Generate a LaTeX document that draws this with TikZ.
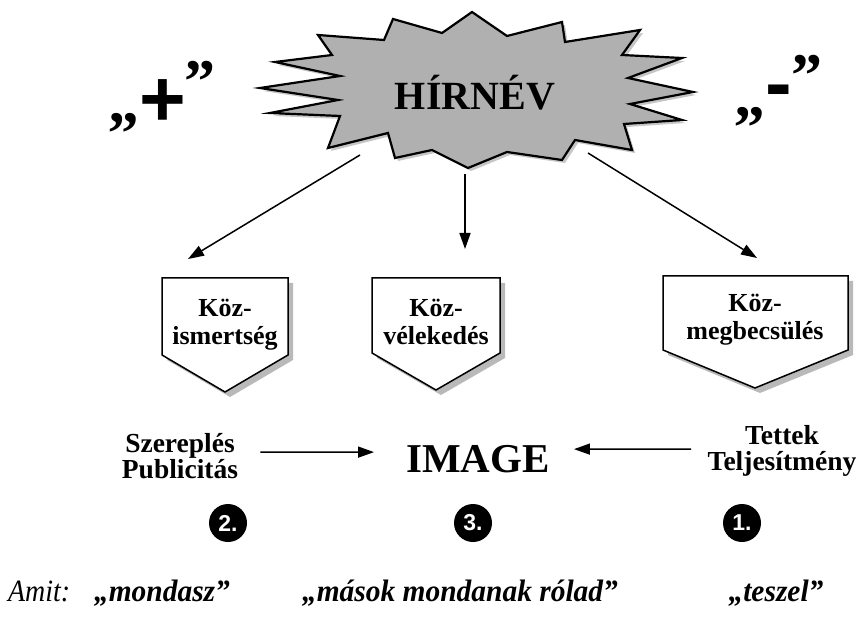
\documentclass[tikz,border=0pt]{standalone}
\usepackage{fontspec}
\setmainfont{Liberation Serif}
\newfontfamily\sansfam{Liberation Sans}
\usetikzlibrary{arrows.meta,calc}
\begin{document}
\begin{tikzpicture}[x=1pt,y=-1pt,
  arr/.style={line width=1.5pt,-{Triangle[length=16pt,width=11pt]}},
  boxline/.style={draw=black,line width=1.5pt,fill=white,line join=miter},
  boxshadow/.style={fill=gray!55},
  boxtext/.style={align=center,inner sep=2pt,font=\bfseries\fontsize{26}{28}\selectfont},
  sidetext/.style={align=center,inner sep=2pt,font=\bfseries\fontsize{27.5}{26}\selectfont},
  numc/.style={circle,fill=black,text=white,minimum size=38pt,inner sep=0pt,font=\sansfam\bfseries\fontsize{23}{23}\selectfont},
  quotes/.style={inner sep=0pt,font=\bfseries\fontsize{62}{62}\selectfont},
  signs/.style={inner sep=0pt,font=\sansfam\bfseries\fontsize{80}{80}\selectfont},
  bottomtext/.style={inner sep=0pt,font=\bfseries\itshape\fontsize{31}{31}\selectfont}]
\useasboundingbox (0,0) rectangle (864,617);
% star
\def\starpath{(260,88) -- (340,76) -- (275,62) -- (332,55) -- (318,35) -- (384,40) -- (393,19) -- (442,33) -- (472,12) -- (507,36) -- (562,22) -- (565,42) -- (640,30) -- (622,55) -- (682,58) -- (628,78) -- (693,92) -- (630,104) -- (682,120) -- (624,124) -- (632,150) -- (575,140) -- (562,160) -- (507,152) -- (468,168) -- (432,150) -- (395,158) -- (388,133) -- (328,148) -- (340,116) -- (270,113) -- (338,100) -- cycle}
\fill[gray!45,shift={(3pt,-3pt)}] \starpath;
\draw[line width=2.2pt,fill=gray!62,line join=miter] \starpath;
\node[anchor=base,inner sep=0pt,font=\bfseries\fontsize{40}{40}\selectfont] (hir) at (475,110) {HÍRNÉV};
% quote signs
\node[quotes,anchor=base] (lq1) at (124,123) {„};
\node[signs,anchor=base] (lp) at (163,127) {+};
\node[quotes,anchor=base] (lq2) at (200,103) {”};
\node[quotes,anchor=base] (rq1) at (750,117) {„};
\node[signs,anchor=base] (rm) at (779,111) {-};
\node[quotes,anchor=base] (rq2) at (807,97) {”};
% boxes
\fill[boxshadow] (167,283) -- (293,283) -- (293,360) -- (230,397) -- (167,360) -- cycle;
\draw[boxline] (162,278) -- (288,278) -- (288,355) -- (225,392) -- (162,355) -- cycle;
\fill[boxshadow] (377,283) -- (505,283) -- (505,358) -- (441,395) -- (377,358) -- cycle;
\draw[boxline] (372,278) -- (500,278) -- (500,353) -- (436,390) -- (372,353) -- cycle;
\fill[boxshadow] (668,281) -- (853,281) -- (853,355) -- (760,393) -- (668,355) -- cycle;
\draw[boxline] (663,276) -- (848,276) -- (848,350) -- (755,388) -- (663,350) -- cycle;
\node[boxtext] (b1) at (225,325) {Köz-\\ismertség};
\node[boxtext] (b2) at (436,322.2) {Köz-\\vélekedés};
\node[boxtext] (b3) at (755,320) {Köz-\\megbecsülés};
% star arrows
\coordinate (s1) at (360,155);
\coordinate (s2) at (465,174);
\coordinate (s3) at (588,153);
\coordinate (t1) at (188,259);
\coordinate (t2) at (465,249);
\coordinate (t3) at (757,258);
\draw[arr] (s1) -- (t1);
\draw[arr] (s2) -- (t2);
\draw[arr] (s3) -- (t3);
% middle row
\node[anchor=base,inner sep=2pt,font=\bfseries\fontsize{41}{41}\selectfont] (img) at (478,472) {IMAGE};
\node[sidetext] (szer) at (180,455.7) {Szereplés\\Publicitás};
\node[sidetext] (tet) at (782,451) {Tettek\\Teljesítmény};
\draw[arr] ($(szer.east)+(20,-3.7)$) -- ($(img.west)+(-30,-6.5)$);
\draw[arr] ($(tet.west)+(-14.4,-2)$) -- ($(img.east)+(22,-9.5)$);
% numbers
\node[numc] (n2) at (228,523) {2.};
\node[numc] (n3) at (473,523) {3.};
\node[numc] (n1) at (742,523) {1.};
% bottom line
\node[anchor=base west,inner sep=0pt,font=\itshape\fontsize{31}{31}\selectfont] (amit) at (8,601) {\scalebox{0.9}[1]{Amit:}};
\node[bottomtext,anchor=base] (w1) at (162,601) {\scalebox{0.95}[1]{„mondasz”}};
\node[bottomtext,anchor=base] (w2) at (460,601) {\scalebox{0.95}[1]{„mások mondanak rólad”}};
\node[bottomtext,anchor=base] (w3) at (776,601) {\scalebox{0.95}[1]{„teszel”}};
\end{tikzpicture}
\end{document}
